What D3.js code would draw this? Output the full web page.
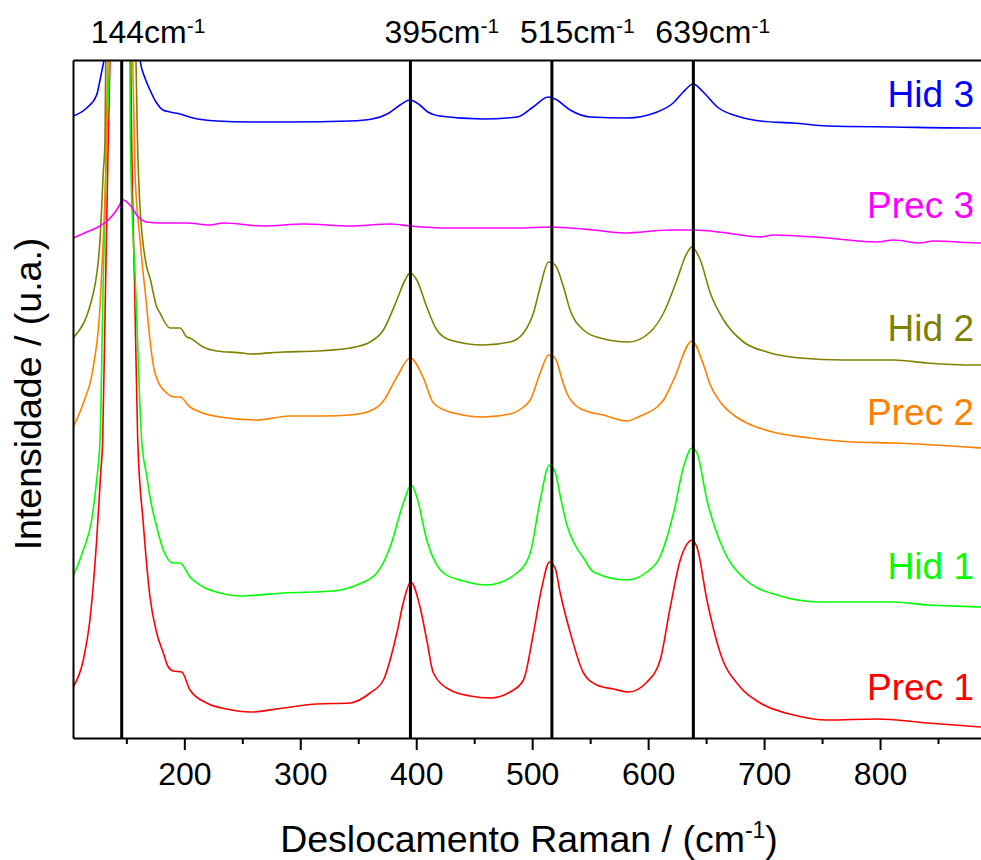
<!DOCTYPE html>
<html>
<head>
<meta charset="utf-8">
<script src="https://cdnjs.cloudflare.com/ajax/libs/d3/7.8.5/d3.min.js"></script>
<style>
body { margin: 0; background: #fff; }
.chart text { font-family: "Liberation Sans", Arial, sans-serif; fill: #000; }
.axis path, .axis line { stroke: #000; stroke-width: 2; }
</style>
</head>
<body>
<div class="chart"></div>
<script>
// Raman spectra, [shift (cm-1), intensity (a.u., stacked)]
var prec1 = [[104.2, 51], [112.9, 78], [118.6, 118], [124.4, 198], [127.9, 265], [129.6, 298], [132.0, 448], [134.4, 598], [135.9, 678], [145, 2500],
    [153.8, 678], [154.6, 598], [157.2, 448], [159.8, 298], [164.6, 215], [170.4, 141], [176.2, 105], [181.9, 85], [185.7, 72], [190.5, 67], [197.8, 66],
    [204.9, 48], [219.3, 35], [236.6, 29], [256.7, 26], [285.4, 30], [314.2, 34], [343.0, 35], [360.2, 45], [371.7, 58], [383.3, 105], [389.0, 136],
    [395.3, 156], [403.3, 131], [409.1, 98], [414.8, 65], [429.2, 48], [446.5, 42], [463.8, 40], [481.0, 46], [492.5, 58], [501.1, 105], [508.4, 151],
    [514.9, 176], [519.8, 170], [524.2, 145], [532.9, 105], [544.3, 65], [555.8, 53], [570.2, 49], [583.1, 46], [599.0, 56], [610.4, 78], [619.1, 131],
    [627.7, 178], [634.9, 196], [637.8, 198], [642.1, 191], [650.7, 138], [662.2, 85], [679.4, 51], [696.7, 35], [725.5, 23], [754.3, 18], [797.4, 19],
    [840.6, 15], [887.4, 11], [900, 10]]
var hid1 = [[104.2, 162], [112.9, 188], [120.1, 218], [124.4, 258], [127.3, 298], [129.9, 448], [133.0, 598], [135.3, 678], [144.5, 2500],
    [153.1, 678], [153.4, 598], [158.1, 448], [163.2, 298], [167.6, 262], [170.4, 241], [176.2, 211], [181.9, 188], [190.5, 175], [196.3, 175],
    [204.9, 161], [216.4, 151], [230.8, 145], [248.1, 142], [285.4, 145], [328.6, 147], [348.7, 153], [366.0, 165], [377.5, 191], [388.9, 235],
    [395.6, 253], [400.5, 241], [409.1, 198], [423.5, 165], [440.7, 157], [460.9, 153], [486.8, 165], [498.3, 185], [506.9, 238], [514.9, 273],
    [519.8, 266], [524.2, 242], [530.2, 212], [537.0, 193], [544.3, 180], [552.9, 166], [581.7, 158], [598.9, 166], [610.2, 181], [621.9, 225],
    [630.5, 271], [637.8, 290], [642.1, 285], [650.7, 238], [665.1, 188], [682.3, 160], [711.1, 143], [748.4, 136], [782.9, 136], [811.7, 136],
    [840.6, 133], [887.4, 131], [900, 130]]
var prec2 = [[104.2, 311], [112.9, 335], [121.5, 371], [127.3, 431], [130.1, 498], [132.2, 565], [133.9, 678], [144.5, 2500],
    [155.5, 678], [157.5, 565], [161.8, 498], [167.6, 431], [170.4, 398], [174.7, 365], [184.8, 345], [192.0, 341], [196.3, 341], [204.9, 331],
    [213.5, 326], [230.8, 321], [262.5, 318], [291.2, 322], [319.9, 322], [343.0, 323], [360.2, 327], [371.7, 337], [383.3, 361], [394.7, 380],
    [406.2, 360], [414.8, 335], [429.2, 326], [458.0, 321], [481.0, 324], [492.5, 331], [498.3, 338], [506.9, 365], [514.1, 383], [519.8, 380],
    [525.9, 358], [530.2, 344], [537.1, 333], [544.3, 328], [561.5, 323], [581.7, 317], [593.2, 322], [607.6, 331], [613.3, 338], [621.9, 358],
    [637.8, 397], [647.8, 373], [653.6, 353], [662.2, 336], [673.7, 323], [685.2, 315], [711.1, 305], [739.9, 300], [777.2, 296], [811.7, 295],
    [887.4, 290], [900, 289]]
var hid2 = [[104.2, 400], [121.5, 445], [127.3, 498], [130.1, 565], [131.6, 598], [132.2, 678], [145, 2500],
    [158.3, 678], [159.6, 598], [161.8, 531], [167.6, 471], [170.4, 460], [176.2, 431], [179.0, 425], [187.7, 410], [196.3, 410], [202.1, 401],
    [204.9, 400], [213.5, 393], [216.4, 391], [228.0, 387], [250.6, 385], [256.7, 384], [285.4, 386], [314.2, 387], [343.0, 390], [360.2, 396],
    [371.7, 408], [383.3, 438], [390.4, 458], [394.7, 465], [400.5, 458], [409.1, 431], [417.8, 408], [429.2, 398], [458.0, 393], [481.0, 396],
    [492.5, 405], [501.1, 425], [506.9, 451], [514.1, 476], [519.8, 473], [527.0, 451], [532.7, 428], [544.3, 408], [558.6, 400], [583.1, 396],
    [601.8, 406], [613.3, 425], [624.8, 458], [633.5, 485], [637.8, 491], [645.0, 478], [653.6, 445], [665.1, 418], [682.3, 396], [702.5, 386],
    [731.2, 380], [768.6, 378], [811.7, 378], [840.6, 375], [880.8, 373], [900, 373]]
var prec3 = [[104.2, 500], [115.8, 506], [127.3, 512], [134.4, 518], [141.7, 528], [147.4, 538], [153.1, 533], [160.3, 521], [167.6, 516],
    [179.0, 515], [202.1, 515], [222.2, 513], [233.6, 515], [268.2, 512], [302.7, 514], [343.0, 512], [377.5, 514], [394.7, 512], [429.2, 510],
    [458.0, 510], [486.8, 510], [515.5, 511], [532.7, 510], [552.9, 508], [578.8, 505], [619.1, 508], [639.2, 508], [668.0, 505], [696.7, 501],
    [708.2, 503], [754.3, 500], [797.4, 496], [811.7, 498], [834.6, 495], [846.2, 497], [887.4, 495], [900, 495]]
var hid3 = [[104.2, 622], [115.8, 630], [124.4, 643], [127.3, 658], [129.4, 670], [130.7, 678], [146, 1400],
    [161.8, 678], [166.1, 660], [170.4, 648], [175.6, 636], [181.6, 628], [187.7, 626], [196.3, 624], [207.5, 620], [228.2, 617], [256.7, 616],
    [291.2, 616], [343.0, 617], [362.0, 619], [375.0, 624], [386.0, 633], [394.7, 638], [403.0, 633], [410.0, 626], [420.0, 622], [457.7, 619],
    [487.0, 621], [500.8, 631], [513.8, 641], [519.8, 639], [532.7, 628], [550.0, 621], [581.9, 620], [607.8, 626], [621.6, 635], [630.3, 646],
    [638.9, 654], [647.5, 646], [659.6, 631], [679.4, 621], [696.7, 617], [725.2, 615], [754.5, 612], [811.4, 611], [887.4, 610], [900, 610]]

var seriesData = [prec1, hid1, prec2, hid2, prec3, hid3]
var seriesNames = ["Prec 1", "Hid 1", "Prec 2", "Hid 2", "Prec 3", "Hid 3"]
var seriesColors = ["#ff0000", "#00ff00", "#ff8000", "#808000", "#ff00ff", "#0000ff"]

var peakPos = [146, 395, 517, 639]
var peakLabels = ["144", "395", "515", "639"]
var majorTicks = [200, 300, 400, 500, 600, 700, 800]
var minorTicks = [150, 250, 350, 450, 550, 650, 750, 850]

var margin = {top: 60, left: 73}
var width = 923
var height = 678
// layout: label offsets from peak lines (px), series name baselines (px)
var peakLabelDx = [-31, -26, -32, -38]
var nameY = [700, 579, 425, 341, 218, 107]

var svg = d3.select(".chart").append("svg")
    .attr("width", 981)
    .attr("height", 860)

var x = d3.scaleLinear().domain([104, 900]).range([margin.left, margin.left + width])
var y = d3.scaleLinear().domain([0, height]).range([margin.top + height, margin.top])

svg.append("clipPath").attr("id", "plot")
    .append("rect")
    .attr("x", margin.left).attr("y", margin.top)
    .attr("width", width).attr("height", height)

var line = d3.line()
    .x(function(d) { return x(d[0]) })
    .y(function(d) { return y(d[1]) })
    .curve(d3.curveMonotoneX)

svg.append("g").attr("clip-path", "url(#plot)")
    .selectAll("path")
    .data(seriesData)
    .enter()
    .append("path")
    .attr("d", line)
    .attr("fill", "none")
    .attr("stroke", function(d, i) { return seriesColors[i] })
    .attr("stroke-width", 1.6)

// peak markers
svg.selectAll("line.peak")
    .data(peakPos)
    .enter()
    .append("line")
    .attr("class", "peak")
    .attr("x1", function(d) { return x(d) })
    .attr("x2", function(d) { return x(d) })
    .attr("y1", margin.top)
    .attr("y2", margin.top + height)
    .attr("stroke", "#000")
    .attr("stroke-width", 3)

var peakText = svg.selectAll("text.peak")
    .data(peakLabels)
    .enter()
    .append("text")
    .attr("class", "peak")
    .attr("x", function(d, i) { return x(peakPos[i]) + peakLabelDx[i] })
    .attr("y", 43)
    .style("font-size", "32px")
peakText.append("tspan").text(function(d) { return d + "cm" })
peakText.append("tspan").attr("dy", -10).style("font-size", "21px").text("-1")

// axes
svg.append("g")
    .attr("class", "axis")
    .attr("transform", "translate(0," + (margin.top + height) + ")")
    .call(d3.axisBottom(x).tickValues(minorTicks).tickSize(6).tickSizeOuter(0).tickFormat(""))
    .select(".domain").remove()
svg.append("g")
    .attr("class", "axis")
    .attr("transform", "translate(0," + (margin.top + height) + ")")
    .call(d3.axisBottom(x).tickValues(majorTicks).tickSize(12).tickSizeOuter(0).tickPadding(12).tickFormat(d3.format("d")))
    .selectAll("text")
    .style("font-size", "32px")
svg.append("g")
    .attr("class", "axis")
    .attr("transform", "translate(" + margin.left + ",0)")
    .call(d3.axisLeft(y).tickValues([]).tickSizeOuter(0))
svg.append("g")
    .attr("class", "axis")
    .attr("transform", "translate(0," + margin.top + ")")
    .call(d3.axisTop(x).tickValues([]).tickSizeOuter(0))

// series names
svg.selectAll("text.name")
    .data(seriesNames)
    .enter()
    .append("text")
    .attr("class", "name")
    .attr("x", 974)
    .attr("y", function(d, i) { return nameY[i] })
    .attr("text-anchor", "end")
    .style("font-size", "37px")
    .style("fill", function(d, i) { return seriesColors[i] })
    .text(function(d) { return d })

// axis titles
var xTitle = svg.append("text")
    .attr("x", 529)
    .attr("y", 852)
    .attr("text-anchor", "middle")
    .style("font-size", "37.5px")
xTitle.append("tspan").text("Deslocamento Raman / (cm")
xTitle.append("tspan").attr("dy", -14).style("font-size", "23px").text("-1")
xTitle.append("tspan").attr("dy", 14).text(")")

svg.append("text")
    .attr("transform", "translate(41," + 394 + ") rotate(-90)")
    .attr("text-anchor", "middle")
    .style("font-size", "37.5px")
    .text("Intensidade / (u.a.)")
</script>
</body>
</html>
